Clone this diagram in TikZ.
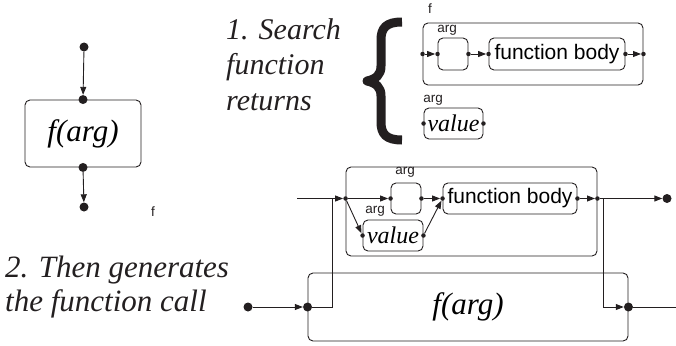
\documentclass[tikz,border=0pt]{standalone}
\usepackage{fontspec}
\setmainfont{Liberation Serif}
\setsansfont{Liberation Sans}
\usetikzlibrary{arrows.meta}
\definecolor{ink}{HTML}{231F20}
\tikzset{
  x=1pt,y=-1pt,
  box/.style={draw=ink,line width=0.9pt,rounded corners=5pt,inner sep=0pt,anchor=center},
  smalllbl/.style={font=\sffamily\fontsize{13.5}{14}\selectfont,inner sep=0pt,text=ink},
  bigtxt/.style={font=\itshape\fontsize{31}{34}\selectfont,inner sep=0pt,text=ink,align=left},
  conn/.style={draw=ink,line width=0.9pt},
  arr/.style={conn,-{Triangle[length=8pt,width=6pt]}},
  sdot/.style={circle,fill=ink,inner sep=0pt,minimum size=4.5pt},
  bdot/.style={circle,fill=ink,inner sep=0pt,minimum size=9pt},
}
\begin{document}
\begin{tikzpicture}
\useasboundingbox (0,0) rectangle (676,345);

% ---------- left diagram ----------
\node[bdot] (d0) at (84,47) {};
\node[box,minimum width=116pt,minimum height=67pt,font=\itshape\fontsize{31}{34}\selectfont] (L) at (83,133.5) {f(arg)};
\node[bdot] (Ln) at (L.north) {};
\node[bdot] (Ls) at (L.south) {};
\node[bdot] (d1) at (84,207) {};
\draw[arr] (d0) -- (Ln);
\draw[arr] (Ls) -- (d1);
\node[smalllbl] (fl) at (153,212) {f};

% ---------- texts ----------
\node[bigtxt,font=\itshape\fontsize{30}{35.5}\selectfont,anchor=north west] (t1) at (226,18) {1. Search\\function\\returns};
\node[bigtxt,anchor=north west] (t2) at (5,256) {2. Then generates\\the function call};

% brace
\draw[ink,line width=9pt,line join=round] (402,22) .. controls (386,22) and (381,28) .. (381,40)
  -- (381,66) .. controls (381,75) and (376,79) .. (367,81)
  .. controls (376,83) and (381,87) .. (381,96)
  -- (381,122) .. controls (381,134) and (386,140) .. (402,140);

% ---------- top: function f ----------
\node[box,minimum width=220pt,minimum height=62pt] (F1) at (533,54) {};
\node[smalllbl] (fF1) at (430,9) {f};
\node[box,minimum width=30pt,minimum height=32pt] (A1) at (453,54) {};
\node[smalllbl] (aA1) at (447,30) {arg};
\node[box,minimum width=136pt,minimum height=32pt,font=\sffamily\fontsize{21}{22}\selectfont] (B1) at (557,54) {function body};
\node[sdot] (F1w) at (F1.west) {};
\node[sdot] (F1e) at (F1.east) {};
\node[sdot] (A1w) at (A1.west) {};
\node[sdot] (A1e) at (A1.east) {};
\node[sdot] (B1w) at (B1.west) {};
\node[sdot] (B1e) at (B1.east) {};
\draw[arr] (F1w) -- (A1w);
\draw[arr] (A1e) -- (B1w);
\draw[arr] (B1e) -- (F1e);

\node[box,minimum width=59pt,minimum height=31pt,font=\itshape\fontsize{24}{25}\selectfont] (V1) at (453.5,123.5) {value};
\node[smalllbl] (aV1) at (433,100) {arg};
\node[sdot] (V1w) at (V1.west) {};
\node[sdot] (V1e) at (V1.east) {};

% ---------- bottom: inner function ----------
\node[box,minimum width=251pt,minimum height=89pt] (F2) at (471.5,211.5) {};
\node[box,minimum width=30pt,minimum height=31pt] (A2) at (406,198.5) {};
\node[smalllbl] (aA2) at (405,172) {arg};
\node[box,minimum width=134pt,minimum height=31pt,font=\sffamily\fontsize{21}{22}\selectfont] (B2) at (510,198.5) {function body};
\node[box,minimum width=60pt,minimum height=31pt,font=\itshape\fontsize{24}{25}\selectfont] (V2) at (393,235.5) {value};
\node[smalllbl] (aV2) at (375,211) {arg};
\node[sdot] (P2l) at (F2.west |- A2.west) {};
\node[sdot] (P2r) at (F2.east |- A2.west) {};
\node[sdot] (A2w) at (A2.west) {};
\node[sdot] (A2e) at (A2.east) {};
\node[sdot] (B2w) at (B2.west) {};
\node[sdot] (B2e) at (B2.east) {};
\node[sdot] (V2w) at (V2.west) {};
\node[sdot] (V2e) at (V2.east) {};
\draw[arr] (P2l) -- (A2w);
\draw[arr] (A2e) -- (B2w);
\draw[arr] (P2l) -- (V2w);
\draw[arr] (V2e) -- (B2w);
\draw[arr] (B2e) -- (P2r);

% ---------- bottom: f(arg) call ----------
\node[box,minimum width=320pt,minimum height=68pt,font=\itshape\fontsize{31}{34}\selectfont] (G) at (468,307) {f(arg)};
\node[bdot] (Gw) at (G.west) {};
\node[bdot] (Ge) at (G.east) {};
\node[bdot] (S) at (248,307) {};
\node[bdot] (E) at (667,198.5) {};
\coordinate (in) at (297,198.5);
\coordinate (j1) at (332,198.5);
\coordinate (j2) at (603,198.5);
\coordinate (out) at (676,307);

\draw[arr] (S) -- (Gw);
\draw[arr] (in) -- (P2l);
\draw[conn] (Gw) -| (j1);
\draw[arr] (P2r) -- (E);
\draw[arr] (j2) |- (Ge);
\draw[conn] (Ge) -- (out);
\end{tikzpicture}
\end{document}
